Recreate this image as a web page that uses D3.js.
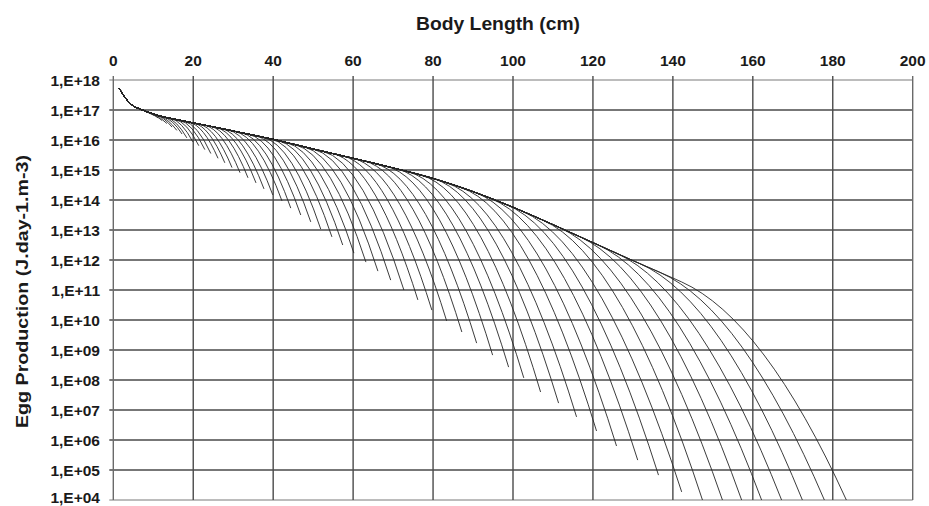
<!DOCTYPE html>
<html><head><meta charset="utf-8">
<script src="https://cdn.jsdelivr.net/npm/d3@7"></script>
<style>
body{margin:0;background:#fff}
svg{display:block}
text{font-family:"Liberation Sans",Arial,sans-serif;font-weight:bold;fill:#1a1a1a}
</style>
</head><body>
<svg id="c" width="929" height="506"></svg>
<script>
// ---- data ----
const xTicks = [0, 20, 40, 60, 80, 100, 120, 140, 160, 180, 200];
const yExponents = [18, 17, 16, 15, 14, 13, 12, 11, 10, 9, 8, 7, 6, 5, 4];
const yTickLabels = ["1,E+18","1,E+17","1,E+16","1,E+15","1,E+14","1,E+13","1,E+12","1,E+11","1,E+10","1,E+09","1,E+08","1,E+07","1,E+06","1,E+05","1,E+04"];
const xTitle = "Body Length (cm)";
const yTitle = "Egg Production (J.day-1.m-3)";

// upper envelope shared by all curves: body length, log10(egg production)
const envelopeX   = [1.5, 2.5, 4.2, 7.3, 11.7, 15.8, 20, 24.2, 32.5, 40, 50, 60, 70, 80, 90, 100, 110, 120, 130, 140, 143];
const envelopeLog = [17.72, 17.5, 17.22, 17.0, 16.80, 16.68, 16.57, 16.46, 16.23, 16.02, 15.70, 15.39, 15.07, 14.72, 14.28, 13.76, 13.18, 12.58, 11.98, 11.40, 11.22];

// each curve leaves the envelope at curveTopX and ends at (curveTipX, curveTipLog)
const curveTopX = [7.3, 8.1, 8.8, 9.6, 10.6, 11.4, 12.4, 13.2, 14.3, 15.4, 16.5, 17.6, 18.9, 20.1, 21.4, 22.8, 24.3, 25.7, 27.1, 28.7, 30.4, 32.0, 33.8, 35.6, 37.4, 39.4, 41.3, 43.3, 45.5, 47.7, 50.0, 52.3, 54.9, 57.4, 60.0, 62.8, 65.4, 68.3, 71.2, 73.9, 77.0, 80.2, 83.4, 87.0, 90.6, 94.5, 98.2, 102.4, 107.4, 111.7, 116.7, 121.2, 125.9, 131.7, 136.7, 142.2];
const curveTipX = [10.2, 11.2, 12.2, 13.4, 14.7, 15.9, 17.2, 18.4, 19.9, 21.4, 22.9, 24.4, 26.2, 27.9, 29.7, 31.7, 33.7, 35.7, 37.7, 39.9, 42.2, 44.4, 46.9, 49.4, 51.9, 54.7, 57.4, 60.2, 63.2, 66.2, 69.4, 72.7, 76.2, 79.7, 83.4, 87.2, 90.9, 94.9, 98.9, 102.7, 106.9, 111.4, 115.9, 120.9, 125.9, 131.2, 136.4, 142.2, 147.4, 152.4, 157.2, 162.2, 167.2, 172.4, 177.9, 183.4];
const curveTipLog = [16.82, 16.74, 16.65, 16.55, 16.43, 16.32, 16.2, 16.07, 15.94, 15.81, 15.68, 15.55, 15.39, 15.24, 15.08, 14.91, 14.74, 14.57, 14.37, 14.17, 13.97, 13.73, 13.5, 13.27, 13.03, 12.77, 12.5, 12.23, 11.93, 11.63, 11.33, 11.0, 10.67, 10.33, 9.97, 9.6, 9.23, 8.83, 8.43, 8.07, 7.6, 7.23, 6.77, 6.3, 5.8, 5.33, 4.83, 4.27, 4, 4, 4, 4, 4, 4, 4, 4];

// ---- drawing ----
const svg = d3.select("#c");
const x = d3.scaleLinear().domain([0, 200]).range([113.3, 912.7]);
const y = d3.scaleLog().domain([1e4, 1e18]).range([500, 80]);
const envLog = d3.scaleLinear().domain(envelopeX).range(envelopeLog);

// grid: horizontal
svg.append("g").selectAll("line").data(yExponents).join("line")
  .attr("x1", x(0) - 4).attr("x2", x(200))
  .attr("y1", d => y(Math.pow(10, d))).attr("y2", d => y(Math.pow(10, d)))
  .attr("stroke", (d) => (d === 18 || d === 4) ? "#7a7a7a" : "#4a4a4a")
  .attr("stroke-width", (d) => (d === 18 || d === 4) ? 1.2 : 1.6);
// grid: vertical
svg.append("g").selectAll("line").data(xTicks).join("line")
  .attr("x1", d => x(d)).attr("x2", d => x(d))
  .attr("y1", y(1e18) - 4).attr("y2", y(1e4))
  .attr("stroke", d => (d === 0 || d === 200) ? "#6a6a6a" : "#4a4a4a")
  .attr("stroke-width", 1.4);

// clip
svg.append("clipPath").attr("id", "plot").append("rect")
  .attr("x", x(0)).attr("y", y(1e18)).attr("width", x(200) - x(0)).attr("height", y(1e4) - y(1e18));

const line = d3.line().x(d => x(d[0])).y(d => y(Math.pow(10, d[1]))).curve(d3.curveMonotoneX);
const gc = svg.append("g").attr("clip-path", "url(#plot)");
curveTopX.forEach((tx, i) => {
  const pts = envelopeX.map((ex, j) => [ex, envelopeLog[j]]).filter(p => p[0] < tx - 0.05);
  const tLog = envLog(tx);
  pts.push([tx, tLog]);
  const p = d3.path();
  line.context(p)(pts);
  const x0 = x(tx), y0 = y(Math.pow(10, tLog));
  const x2 = x(curveTipX[i]), y2 = y(Math.pow(10, curveTipLog[i]));
  const ya = y(Math.pow(10, envLog(tx - 1.5))), yb = y(Math.pow(10, envLog(tx + 1.5)));
  const sl = (yb - ya) / (x(tx + 1.5) - x(tx - 1.5));
  p.quadraticCurveTo((x0 + x2) / 2, y0 + sl * (x2 - x0) / 2, x2, y2);
  gc.append("path").attr("d", p.toString())
    .attr("fill", "none").attr("stroke", "#262626").attr("stroke-width", 0.9);
});

// tick labels
svg.append("g").selectAll("text").data(xTicks).join("text")
  .attr("x", d => x(d)).attr("y", 66).attr("text-anchor", "middle")
  .attr("font-size", 15.5).text(d => d);
svg.append("g").selectAll("text").data(yExponents).join("text")
  .attr("x", 100).attr("y", d => y(Math.pow(10, d)) + (d === 4 ? 3 : 5.5)).attr("text-anchor", "end")
  .attr("font-size", 15.5).text((d, i) => yTickLabels[i]);

// titles
svg.append("text").attr("x", 498).attr("y", 30).attr("text-anchor", "middle")
  .attr("font-size", 17.5).attr("textLength", 164).attr("lengthAdjust", "spacingAndGlyphs").text(xTitle);
svg.append("text").attr("transform", "translate(28.3,291.5) rotate(-90)")
  .attr("text-anchor", "middle").attr("font-size", 16.5)
  .attr("textLength", 273).attr("lengthAdjust", "spacingAndGlyphs").text(yTitle);
</script>
</body></html>
